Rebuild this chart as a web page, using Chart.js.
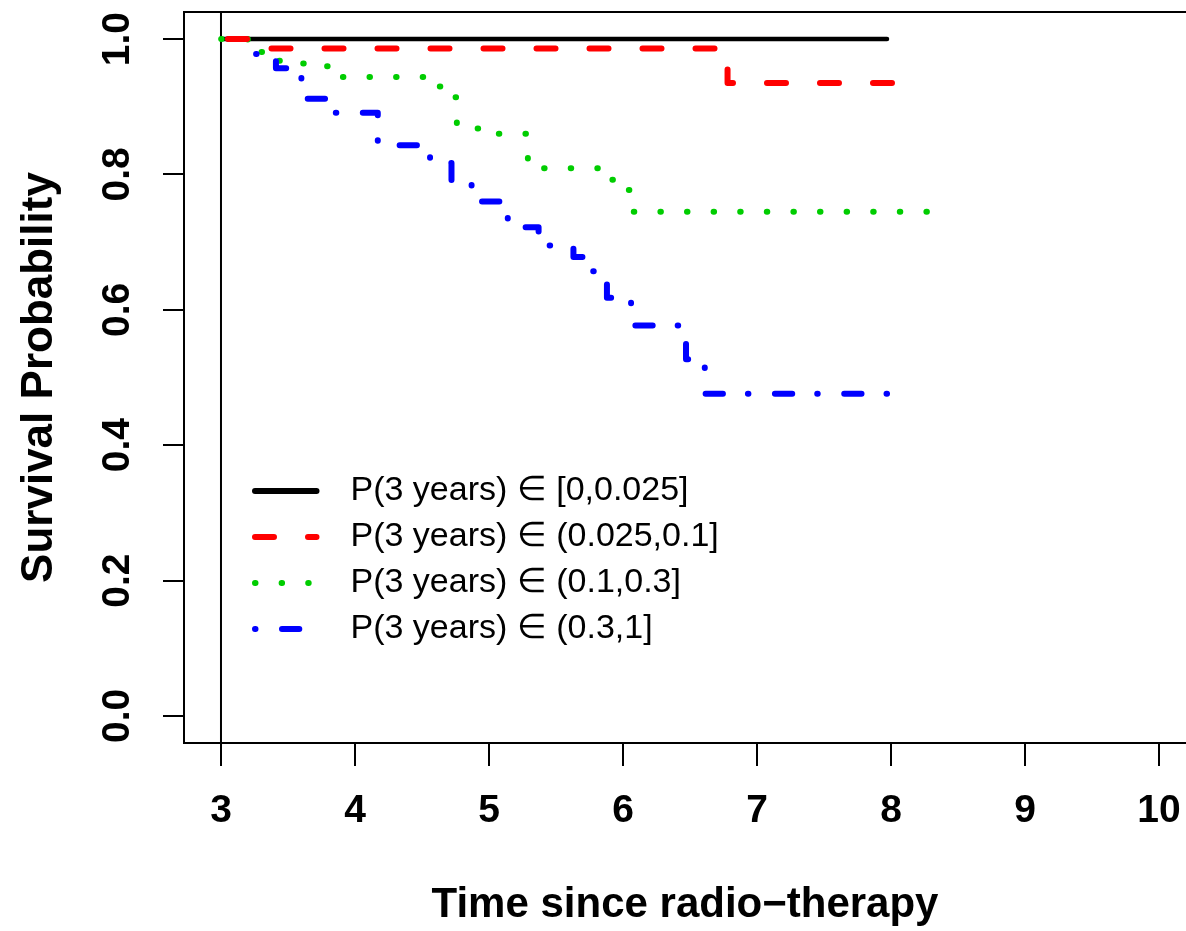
<!DOCTYPE html>
<html>
<head>
<meta charset="utf-8">
<title>Survival by predicted risk</title>
<script src="https://cdn.jsdelivr.net/npm/chart.js@4.4.0/dist/chart.umd.min.js"></script>
<style>
  html, body { margin: 0; padding: 0; background: #ffffff; }
  canvas { display: block; }
</style>
</head>
<body>
<canvas id="survivalChart" width="1186" height="931"></canvas>
<script>
// =========================================
// Data
// =========================================

const groupLabels = [
    "P(3 years) \u2208 [0,0.025]",
    "P(3 years) \u2208 (0.025,0.1]",
    "P(3 years) \u2208 (0.1,0.3]",
    "P(3 years) \u2208 (0.3,1]"
];

const xTicks = [3, 4, 5, 6, 7, 8, 9, 10];
const yTicks = [0, 0.2, 0.4, 0.6, 0.8, 1.0];
const yTickLabels = ["0.0", "0.2", "0.4", "0.6", "0.8", "1.0"];

// reference line at start of follow-up
const startLineX = 3;

// step curves: time of each drop and survival after it
const timesLow = [3, 7.97];
const survLow = [1, 1];

const timesMid = [3, 3.22, 6.78, 8.05];
const survMid = [1, 0.986, 0.935, 0.935];

const timesHigh = [3, 3.20, 3.33, 3.51, 3.68, 3.81, 4.54, 4.67, 4.76, 4.99, 5.29, 5.87, 5.99, 6.08, 8.28];
const survHigh = [1, 0.981, 0.968, 0.964, 0.960, 0.944, 0.930, 0.914, 0.868, 0.860, 0.809, 0.792, 0.777, 0.745, 0.745];

const timesTop = [3, 3.22, 3.41, 3.49, 3.60, 3.80, 4.17, 4.56, 4.72, 4.87, 5.14, 5.25, 5.37, 5.63, 5.74, 5.88, 6.06, 6.47, 6.61, 8.01];
const survTop = [1, 0.978, 0.957, 0.948, 0.912, 0.891, 0.843, 0.817, 0.790, 0.760, 0.729, 0.722, 0.695, 0.678, 0.657, 0.618, 0.577, 0.527, 0.476, 0.476];

// =========================================
// Helpers
// =========================================

const FONT = "'Liberation Sans', Arial, Helvetica, sans-serif";

const X_MIN = 2.724;
const X_MAX = 10.201;
const Y_MIN = -0.04;
const Y_MAX = 1.04;

function toPoints(times, surv){
    return times.map((t, i) => ({ x: t, y: surv[i] }));
}

function stepSet(label, times, surv, color, width, dash, dashOffset, order){
    return {
        label: label,
        data: toPoints(times, surv),
        borderColor: color,
        backgroundColor: color,
        borderWidth: width,
        borderDash: dash,
        borderDashOffset: dashOffset,
        borderCapStyle: "round",
        borderJoinStyle: "round",
        stepped: true,
        pointRadius: 0,
        fill: false,
        order: order
    };
}

// =========================================
// Plugins
// =========================================

// box round the plot region
const frameBox = {
    id: "frameBox",
    afterDatasetsDraw(chart){
        const a = chart.chartArea;
        const ctx = chart.ctx;
        ctx.save();
        ctx.strokeStyle = "#000000";
        ctx.lineWidth = 2;
        ctx.strokeRect(a.left, a.top, a.right - a.left + 20, a.bottom - a.top);
        ctx.restore();
    }
};

// put the legend inside the plot, lower left
const legendSpot = {
    id: "legendSpot",
    afterLayout(chart){
        const lg = chart.legend;
        lg.left = 243;
        lg.top = 462;
        lg.right = lg.left + lg.width;
        lg.bottom = lg.top + 300;
    }
};

// =========================================
// Chart
// =========================================

const survivalChart = new Chart(

document.getElementById("survivalChart"),

{

type: "line",

data: {

datasets: [

    stepSet(groupLabels[0], timesLow, survLow, "#000000", 4.5, [], 0, 4),
    stepSet(groupLabels[1], timesMid, survMid, "#ff0000", 6, [19, 34], 46, 1),
    stepSet(groupLabels[2], timesHigh, survHigh, "#00cd00", 6, [0.5, 26.1], 26.4, 3),
    stepSet(groupLabels[3], timesTop, survTop, "#0000ff", 6, [0.5, 26.5, 17.3, 25], 19.3, 2),

    {
        label: "start",
        data: [{ x: startLineX, y: Y_MIN }, { x: startLineX, y: Y_MAX }],
        borderColor: "#000000",
        borderWidth: 2,
        pointRadius: 0,
        fill: false,
        order: 5
    }

]

},

options: {

    responsive: false,
    animation: false,

    layout: {
        autoPadding: false,
        padding: { top: 12, left: 0, right: 0, bottom: 0 }
    },

    plugins: {

        tooltip: { enabled: false },

        legend: {
            position: "chartArea",
            align: "start",
            labels: {
                usePointStyle: true,
                pointStyle: "line",
                pointStyleWidth: 61.5,
                boxHeight: 10,
                padding: 12,
                color: "#000000",
                font: { family: FONT, size: 34, weight: "normal" },
                filter: item => item.datasetIndex < groupLabels.length,
                sort: (a, b) => a.datasetIndex - b.datasetIndex,
                generateLabels(chart){
                    const items = Chart.defaults.plugins.legend.labels.generateLabels(chart);
                    items.forEach(item => {
                        const ds = chart.data.datasets[item.datasetIndex];
                        item.lineWidth = 6;
                        item.lineDash = ds.borderDash || [];
                        item.lineDashOffset = 0;
                        item.lineCap = "round";
                        item.strokeStyle = ds.borderColor;
                        item.pointStyle = "line";
                        item.text = "\u2002" + item.text;
                    });
                    return items;
                }
            }
        }

    },

    scales: {

        x: {
            type: "linear",
            min: X_MIN,
            max: X_MAX,
            afterFit(scale){
                scale.height = 188;
                scale.paddingLeft = 0;
                scale.paddingRight = 0;
            },
            afterBuildTicks(scale){
                scale.ticks = xTicks.map(v => ({ value: v }));
            },
            ticks: {
                color: "#000000",
                padding: 26,
                autoSkip: false,
                maxRotation: 0,
                font: { family: FONT, size: 39, weight: "bold", lineHeight: 1 },
                callback: value => String(value)
            },
            grid: {
                drawOnChartArea: false,
                color: "#000000",
                lineWidth: 2,
                tickLength: 23
            },
            border: { display: true, color: "#000000", width: 2 },
            title: {
                display: true,
                text: "Time since radio\u2212therapy",
                color: "#000000",
                font: { family: FONT, size: 42, weight: "bold", lineHeight: 1 },
                padding: { top: 0, bottom: 5 }
            }
        },

        y: {
            type: "linear",
            min: Y_MIN,
            max: Y_MAX,
            afterFit(scale){
                scale.width = 184;
                scale.paddingTop = 0;
                scale.paddingBottom = 0;
            },
            afterBuildTicks(scale){
                scale.ticks = yTicks.map(v => ({ value: v }));
            },
            ticks: {
                color: "#000000",
                padding: 18,
                autoSkip: false,
                minRotation: 90,
                maxRotation: 90,
                crossAlign: "center",
                font: { family: FONT, size: 39, weight: "bold", lineHeight: 1 },
                callback: value => yTickLabels[yTicks.indexOf(value)]
            },
            grid: {
                drawOnChartArea: false,
                color: "#000000",
                lineWidth: 2,
                tickLength: 21
            },
            border: { display: true, color: "#000000", width: 2 },
            title: {
                display: true,
                text: "Survival Probability",
                color: "#000000",
                font: { family: FONT, size: 44, weight: "bold", lineHeight: 1.2 },
                padding: { top: 13.6, bottom: 0 }
            }
        }

    }

},

plugins: [frameBox, legendSpot]

});
</script>
</body>
</html>
